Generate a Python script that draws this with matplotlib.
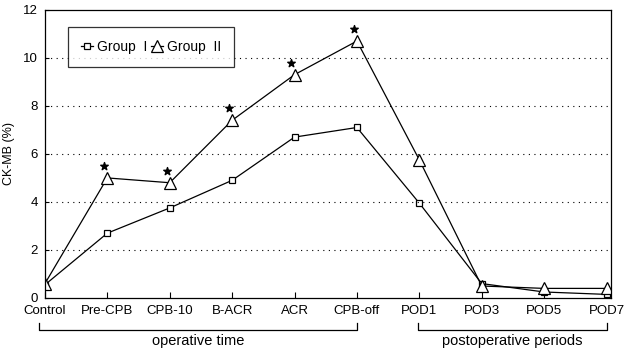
import matplotlib.pyplot as plt
import numpy as np

plt.rcParams["font.family"] = ["Liberation Sans", "DejaVu Sans"]

# data
labels = ["Control", "Pre-CPB", "CPB-10", "B-ACR", "ACR", "CPB-off",
          "POD1", "POD3", "POD5", "POD7"]
group1 = [0.55, 2.7, 3.75, 4.9, 6.7, 7.1, 3.95, 0.6, 0.25, 0.15]
group2 = [0.6, 5.0, 4.8, 7.4, 9.3, 10.7, 5.75, 0.5, 0.4, 0.4]
star_idx = [1, 2, 3, 4, 5]

x = np.arange(len(labels))

fig = plt.figure(figsize=(6.24, 3.51), dpi=100)
ax = fig.add_axes([0.072, 0.151, 0.907, 0.821])

ax.plot(x, group1, color="black", lw=0.9, marker="s", ms=5,
        mfc="white", mec="black", mew=0.9, label="Group  I")
ax.plot(x, group2, color="black", lw=0.9, marker="^", ms=9,
        mfc="white", mec="black", mew=0.9, label="Group  II")

# significance stars above group II
sx = [x[i] - 0.05 for i in star_idx]
sy = [group2[i] + 0.5 for i in star_idx]
ax.scatter(sx, sy, marker="*", s=32, color="black", zorder=5)

ax.set_xlim(0, 9.07)
ax.set_ylim(0, 12)
ax.set_xticks(x)
ax.set_xticklabels(labels, fontsize=9.5)
ax.set_yticks([0, 2, 4, 6, 8, 10, 12])
ax.tick_params(axis="y", labelsize=9.5, length=3, direction="in", pad=5)
ax.tick_params(axis="x", length=4, direction="in", pad=5)
ax.set_ylabel("CK-MB (%)", fontsize=9, labelpad=6)

for yv in [2, 4, 6, 8, 10]:
    ax.axhline(yv, color="black", lw=0.8, ls=(0, (1, 4)))

for s in ax.spines.values():
    s.set_linewidth(0.9)

leg = ax.legend(loc="upper left", ncol=2, fontsize=10, frameon=True,
                fancybox=False, edgecolor="black", handlelength=0.9,
                handletextpad=0.25, columnspacing=0.25, borderpad=0.95,
                bbox_to_anchor=(0.028, 0.965))
leg.get_frame().set_linewidth(0.9)

# group brackets below the axis
def bracket(x0, x1, text):
    y_top = -1.05
    y_bot = -1.35
    ax.plot([x0, x0, x1, x1], [y_top, y_bot, y_bot, y_top], color="black",
            lw=0.9, clip_on=False)
    ax.text((x0 + x1) / 2, y_bot - 0.15, text, ha="center", va="top",
            fontsize=10.5)

bracket(-0.1, 5, "operative time")
bracket(5.98, 9.0, "postoperative periods")

fig.savefig("out.png", dpi=100)
